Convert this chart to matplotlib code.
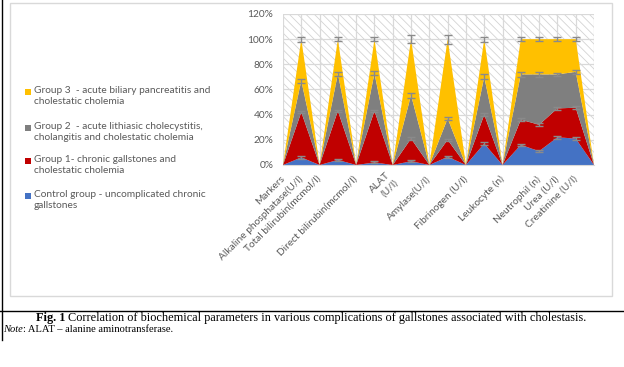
import matplotlib
matplotlib.use("Agg")
import matplotlib.pyplot as plt
from matplotlib.patches import Rectangle
from matplotlib.lines import Line2D
import numpy as np

# ---------------- data ----------------
tick_labels = ["Markers", "Alkaline phosphatase(U/l)", "Total bilirubin(mcmol/l)", "",
               "Direct bilirubin(mcmol/l)", "", "ALAT\n(U/l)", "", "Amylase(U/l)", "",
               "Fibrinogen (U/l)", "", "Leukocyte (n)", "", "Neutrophil (n)", "Urea (U/l)",
               "Creatinine (U/l)", ""]

control = [0, 6, 0, 4, 0, 2, 0, 3, 0, 6.5, 0, 17, 0, 16, 11, 22, 21, 0]
group1  = [0, 36, 0, 39, 0, 41, 0, 18, 0, 13.5, 0, 23, 0, 20, 21, 23, 24.5, 0]
group2  = [0, 25, 0, 29.5, 0, 30, 0, 34.5, 0, 17, 0, 30, 0, 36, 40, 27, 28.5, 0]
group3  = [0, 33, 0, 27.5, 0, 27, 0, 44.5, 0, 63, 0, 30, 0, 28, 28, 28, 26, 0]

control_err = [0, 1, 0, 1, 0, 0.8, 0, 1, 0, 1, 0, 1, 0, 1, 1, 1, 1, 0]
group1_err  = [0, 1, 0, 1, 0, 1, 0, 1, 0, 1, 0, 1, 0, 1, 1, 1, 1, 0]
group2_err  = [0, 1.5, 0, 1.5, 0, 1.5, 0, 2, 0, 1.5, 0, 2, 0, 2, 2, 1.5, 1.5, 0]
group3_err  = [0, 2, 0, 1.8, 0, 1.8, 0, 3, 0, 3.5, 0, 2, 0, 1.8, 1.5, 1.5, 1.5, 0]

series_names = ["Control group - uncomplicated chronic\ngallstones",
                "Group 1- chronic gallstones and\ncholestatic cholemia",
                "Group 2  - acute lithiasic cholecystitis,\ncholangitis and cholestatic cholemia",
                "Group 3  - acute biliary pancreatitis and\ncholestatic cholemia"]
colors = ["#4472C4", "#C00000", "#7F7F7F", "#FFC000"]
y_ticks = [0, 20, 40, 60, 80, 100, 120]

# ---------------- figure ----------------
plt.rcParams['font.family'] = ['Lato', 'DejaVu Sans']
plt.rcParams['hatch.linewidth'] = 0.6
W, H = 624, 367
fig = plt.figure(figsize=(W / 100, H / 100), dpi=100)

ax = fig.add_axes([283 / W, 1 - 165 / H, (594 - 283) / W, (165 - 14) / H])
x = np.arange(len(tick_labels))

# hatched plot-area background
bg = Rectangle((0, 0), 1, 1, transform=ax.transAxes, facecolor="white",
               edgecolor="#d3d3d3", lw=0, hatch="\\\\\\\\", zorder=0)
ax.add_patch(bg)
ax.patch.set_visible(False)

data = [control, group1, group2, group3]
errs = [control_err, group1_err, group2_err, group3_err]
ax.stackplot(x, *data, colors=colors, zorder=2, linewidth=0)

cum = np.zeros(len(x))
for vals, err in zip(data, errs):
    cum = cum + np.array(vals, dtype=float)
    e = np.array(err, dtype=float)
    m = e > 0
    ax.errorbar(x[m], cum[m], yerr=e[m], fmt="none", ecolor="#8a8a8a",
                elinewidth=1, capsize=3, capthick=1, zorder=3)

ax.set_xlim(0, len(x) - 1)
ax.set_ylim(0, 120)
ax.set_yticks(y_ticks)
ax.set_yticklabels([f"{v}%" for v in y_ticks])
ax.set_xticks(x)
ax.set_xticklabels(tick_labels, rotation=45, ha="right", va="center",
                   rotation_mode="anchor")
ax.tick_params(axis="both", length=0, labelsize=7.3, colors="#595959")
ax.tick_params(axis="x", pad=9)
ax.tick_params(axis="y", pad=7)
ax.grid(True, color="#d9d9d9", lw=0.9, zorder=1)
ax.set_axisbelow(True)
for s in ["top", "right", "left"]:
    ax.spines[s].set_visible(False)
ax.spines["bottom"].set_color("#d9d9d9")
ax.spines["bottom"].set_zorder(4)

# ---------------- legend (manual, top entry = top series) ----------------
leg_y = [92, 128, 161, 196]
for i, (name, col) in enumerate(zip(series_names[::-1], colors[::-1])):
    yc = leg_y[i]
    fig.add_artist(Rectangle((25 / W, 1 - (yc + 3) / H), 6 / W, 6 / H,
                             transform=fig.transFigure, facecolor=col, lw=0))
    fig.text(34 / W, 1 - (yc - 6) / H, name, fontsize=7.3, color="#595959",
             va="top", ha="left", linespacing=1.3)

# chart border
fig.add_artist(Rectangle((10 / W, 1 - 296 / H), (612 - 10) / W, (296 - 3) / H,
                         transform=fig.transFigure, facecolor="none",
                         edgecolor="#d9d9d9", lw=1))

# page lines
fig.add_artist(Line2D([1.5 / W, 1.5 / W], [1, 1 - 340 / H], color="black", lw=1,
                      transform=fig.transFigure))
fig.add_artist(Line2D([0, 1], [1 - 311 / H, 1 - 311 / H], color="black", lw=1,
                      transform=fig.transFigure))

# caption
serif = ["Liberation Serif", "DejaVu Serif"]
fig.canvas.draw()
r = fig.canvas.get_renderer()
t1 = fig.text(36 / W, 1 - 318 / H, "Fig. 1", fontsize=8.85, family=serif,
              fontweight="bold", va="center", ha="left")
bb = t1.get_window_extent(r)
fig.text(bb.x1 / W + 3 / W, 1 - 318 / H,
         "Correlation of biochemical parameters in various complications of gallstones associated with cholestasis.",
         fontsize=8.85, family=serif, va="center", ha="left")
t2 = fig.text(3 / W, 1 - 329.5 / H, "Note", fontsize=7.6, family=serif,
              style="italic", va="center", ha="left")
bb2 = t2.get_window_extent(r)
fig.text(bb2.x1 / W, 1 - 329.5 / H, ": ALAT – alanine aminotransferase.",
         fontsize=7.6, family=serif, va="center", ha="left")

fig.savefig("out.png", dpi=100)
